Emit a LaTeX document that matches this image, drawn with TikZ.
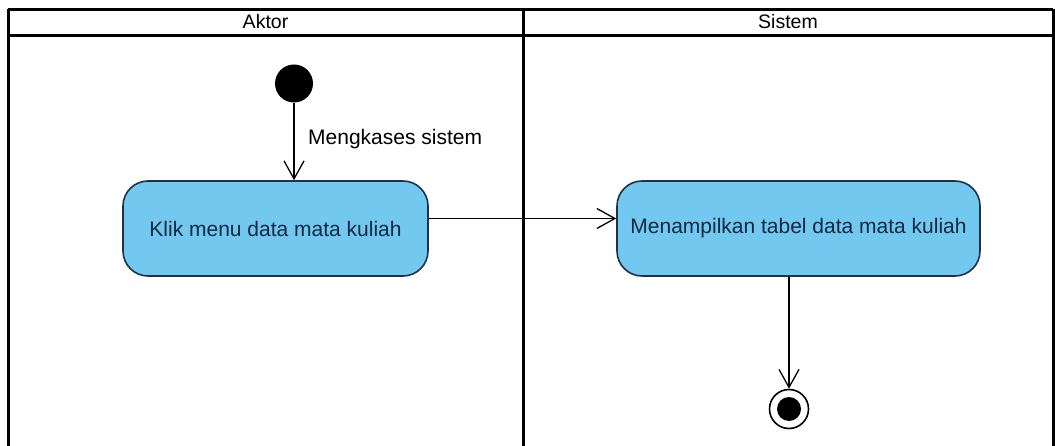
\documentclass[tikz,border=0pt]{standalone}
\usepackage{fontspec}
\setmainfont{Liberation Sans}
\usetikzlibrary{arrows.meta}
\definecolor{actfill}{RGB}{115,200,240}
\definecolor{actdraw}{RGB}{30,50,75}
\definecolor{acttext}{RGB}{15,40,70}
\tikzset{
  action/.style={draw=actdraw, line width=1.6pt, fill=actfill, rectangle, rounded corners=25pt,
    minimum height=95pt, text=acttext, font=\fontsize{21}{24}\selectfont, inner sep=0pt},
  flow/.style={line width=1.3pt, -{Straight Barb[length=18pt,width=20pt,line width=1.3pt]}},
  lane/.style={line width=3pt, black},
  head/.style={font=\fontsize{19.5}{22}\selectfont},
  lbl/.style={font=\fontsize{21}{24}\selectfont, anchor=west, inner sep=0pt}
}
\begin{document}
\begin{tikzpicture}[x=1pt,y=-1pt]
\useasboundingbox (0,0) rectangle (1055,446);
\fill[white] (0,0) rectangle (1055,446);
\clip (0,0) rectangle (1055,446);
% swimlane frame
\draw[line width=2.2pt] (8,9.5) -- (1053,9.5);
\draw[lane] (8,35.5) -- (1053,35.5);
\draw[lane] (8,9.5) -- (8,460);
\draw[lane] (523,9.5) -- (523,460);
\draw[lane] (1053,9.5) -- (1053,460);
\node[head] (h1) at (265.5,22) {Aktor};
\node[head] (h2) at (788,22) {Sistem};
% nodes
\node[circle, fill=black, minimum size=38pt, inner sep=0pt] (start) at (294,83.5) {};
\node[action, minimum width=305pt] (a1) at (275.5,228.5) {Klik menu data mata kuliah};
\node[action, minimum width=363pt] (a2) at (798.5,228.5) {Menampilkan tabel data mata kuliah};
\node[circle, draw=black, line width=1.6pt, fill=white, minimum size=39pt, inner sep=0pt] (final) at (789,409) {};
\node[circle, fill=black, minimum size=24pt, inner sep=0pt] (finalin) at (final.center) {};
% connectors
\draw[flow] (start) -- (start |- a1.north);
\node[lbl] (l1) at (308,139) {Mengkases sistem};
\draw[flow] ([yshift=10pt]a1.east) -- ([yshift=10pt]a2.west);
\draw[flow] (final |- a2.south) -- (final);
\end{tikzpicture}
\end{document}
